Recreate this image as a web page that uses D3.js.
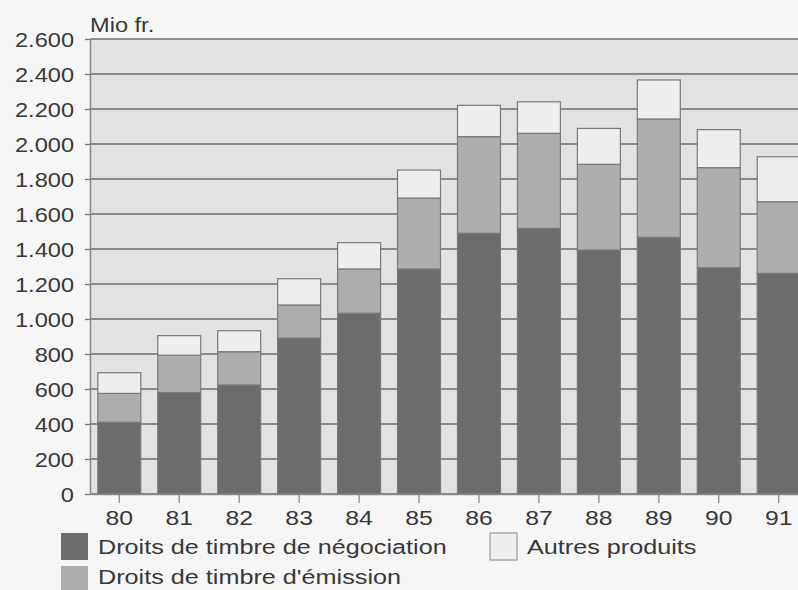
<!DOCTYPE html>
<html>
<head>
<meta charset="utf-8">
<script src="https://cdn.jsdelivr.net/npm/d3@7/dist/d3.min.js"></script>
<style>
  html, body { margin: 0; padding: 0; background: #f6f6f6; }
  svg { display: block; font-family: "Liberation Sans", Arial, Helvetica, sans-serif; }
</style>
</head>
<body>
<svg id="chart" width="798" height="590"></svg>
<script>
// ---- data ----
const years = ["80","81","82","83","84","85","86","87","88","89","90","91"];
const negociation = [410, 579, 623, 891, 1033, 1286, 1490, 1518, 1394, 1467, 1293, 1261];
const emission    = [165, 214, 190, 189, 253, 405, 552, 543, 490, 676, 572, 409];
const autres      = [118, 112, 120, 150, 150, 160, 179, 180, 205, 223, 217, 257];
const seriesKeys   = ["negociation", "emission", "autres"];
const seriesLabels = ["Droits de timbre de négociation", "Droits de timbre d'émission", "Autres produits"];
const yTickValues = [0,200,400,600,800,1000,1200,1400,1600,1800,2000,2200,2400,2600];
const yTickLabels = ["0","200","400","600","800","1.000","1.200","1.400","1.600","1.800","2.000","2.200","2.400","2.600"];
const unitLabel = "Mio fr.";

// ---- styles ----
const colors = { negociation: "#6c6c6c", emission: "#adadad", autres: "#eeeeee" };
const textColor = "#383838";
const SX = 1.18; // horizontal stretch of the typeface in the reference

const svg = d3.select("#chart");
const pLeft = 90, pRight = 808, pTop = 39, pBottom = 494;

const rows = years.map((yr, i) => ({ year: yr, negociation: negociation[i], emission: emission[i], autres: autres[i] }));
const stacked = d3.stack().keys(seriesKeys)(rows);

const x = d3.scaleBand().domain(years).range([pLeft, pRight]).paddingInner(0.283).paddingOuter(0.13);
const y = d3.scaleLinear().domain([0, 2600]).range([pBottom, pTop]);

// plot background
svg.append("rect").attr("x", pLeft).attr("y", pTop).attr("width", 798 - pLeft).attr("height", pBottom - pTop)
  .attr("fill", "#e2e2e2");

// gridlines
svg.append("g").selectAll("line").data(yTickValues).join("line")
  .attr("x1", pLeft).attr("x2", 798)
  .attr("y1", d => y(d)).attr("y2", d => y(d))
  .attr("stroke", "#6c6c6c").attr("stroke-width", 1.3);

// bars
const layers = svg.append("g").selectAll("g").data(stacked).join("g")
  .attr("fill", d => colors[d.key]);
layers.selectAll("rect").data(d => d).join("rect")
  .attr("x", d => x(d.data.year))
  .attr("width", x.bandwidth())
  .attr("y", d => y(d[1]))
  .attr("height", d => y(d[0]) - y(d[1]))
  .attr("stroke", "#7a7a7a").attr("stroke-width", 1.2);

// y axis
const yAxis = d3.axisLeft(y).tickValues(yTickValues).tickSize(5).tickSizeOuter(0)
  .tickFormat((d, i) => yTickLabels[i]);
const gy = svg.append("g").attr("transform", `translate(${pLeft},0)`).call(yAxis);
gy.select(".domain").attr("stroke", "#888").attr("stroke-width", 1.5);
gy.selectAll(".tick line").attr("stroke", "#777").attr("stroke-width", 1.3);
gy.selectAll(".tick text")
  .attr("x", 0).attr("dy", "0.35em")
  .attr("transform", `translate(-16,0) scale(${SX},1)`)
  .attr("font-size", 20).attr("fill", textColor);

// x axis
const xAxis = d3.axisBottom(x).tickSize(9).tickSizeOuter(0);
const gx = svg.append("g").attr("transform", `translate(0,${pBottom})`).call(xAxis);
gx.select(".domain").attr("stroke", "#888").attr("stroke-width", 1.3);
gx.selectAll(".tick line").attr("stroke", "#888").attr("stroke-width", 1.3);
gx.selectAll(".tick text")
  .attr("y", 0).attr("dy", 0)
  .attr("transform", `translate(0,31) scale(${SX},1)`)
  .attr("font-size", 21).attr("fill", textColor);

// unit label
svg.append("g").attr("transform", `translate(90,32) scale(${SX},1)`)
  .append("text").attr("font-size", 20).attr("fill", textColor).text(unitLabel);

// legend
const legendPos = [
  { key: "negociation", rx: 61, ry: 533, tx: 98, ty: 554 },
  { key: "emission",    rx: 61, ry: 566, tx: 98, ty: 584 },
  { key: "autres",      rx: 490, ry: 533, tx: 527, ty: 554 }
];
const lg = svg.append("g");
legendPos.forEach((p) => {
  const k = seriesKeys.indexOf(p.key);
  lg.append("rect").attr("x", p.rx).attr("y", p.ry).attr("width", 27).attr("height", 27)
    .attr("fill", colors[p.key])
    .attr("stroke", p.key === "autres" ? "#999" : "none").attr("stroke-width", 1.2);
  lg.append("g").attr("transform", `translate(${p.tx},${p.ty}) scale(1.2,1)`)
    .append("text").attr("font-size", 21).attr("fill", textColor).text(seriesLabels[k]);
});
</script>
</body>
</html>
